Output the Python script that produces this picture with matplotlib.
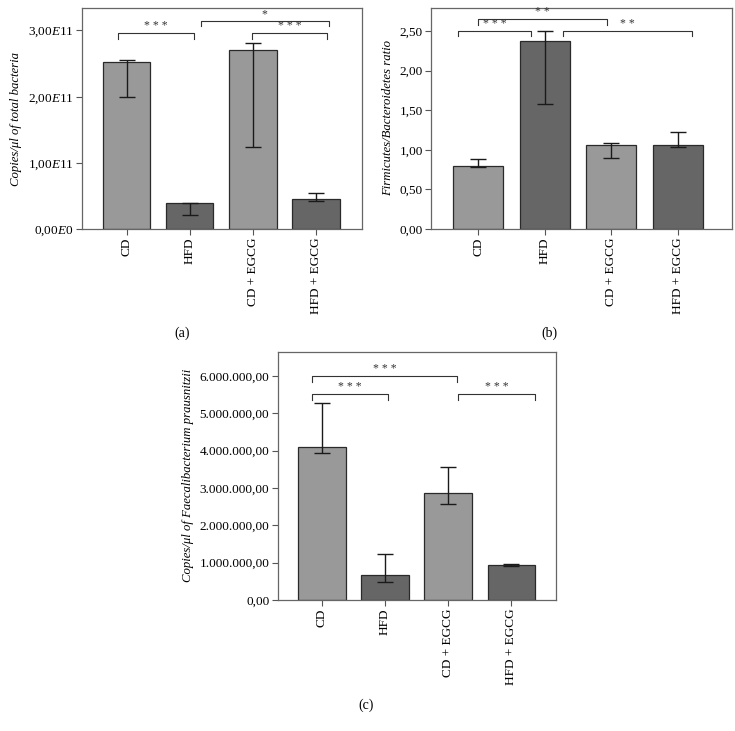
import matplotlib
matplotlib.use("Agg")
import matplotlib.pyplot as plt
import numpy as np

plt.rcParams['font.family'] = ['Liberation Serif', 'DejaVu Serif']
plt.rcParams['mathtext.fontset'] = 'custom'
plt.rcParams['mathtext.it'] = 'Liberation Serif:italic'
plt.rcParams['mathtext.rm'] = 'Liberation Serif'

groups = ["CD", "HFD", "CD + EGCG", "HFD + EGCG"]

# Panel (a): total bacteria
a_vals = [2.53e11, 0.39e11, 2.70e11, 0.45e11]
a_low = [2.00e11, 0.21e11, 1.24e11, 0.42e11]
a_high = [2.55e11, 0.40e11, 2.81e11, 0.54e11]
a_ticks = [0, 1e11, 2e11, 3e11]
a_ticklabels = [r"0,00$E$0", r"1,00$E$11", r"2,00$E$11", r"3,00$E$11"]

# Panel (b): Firmicutes/Bacteroidetes ratio
b_vals = [0.80, 2.37, 1.06, 1.06]
b_low = [0.78, 1.58, 0.90, 1.04]
b_high = [0.89, 2.50, 1.08, 1.22]
b_ticks = [0, 0.5, 1.0, 1.5, 2.0, 2.5]
b_ticklabels = ["0,00", "0,50", "1,00", "1,50", "2,00", "2,50"]

# Panel (c): Faecalibacterium prausnitzii
c_vals = [4.09e6, 0.67e6, 2.86e6, 0.94e6]
c_low = [3.94e6, 0.47e6, 2.56e6, 0.91e6]
c_high = [5.27e6, 1.24e6, 3.56e6, 0.97e6]
c_ticks = [0, 1e6, 2e6, 3e6, 4e6, 5e6, 6e6]
c_ticklabels = ["0,00", "1.000.000,00", "2.000.000,00", "3.000.000,00",
                "4.000.000,00", "5.000.000,00", "6.000.000,00"]

# significance brackets: (x_start, x_end, y, label)
a_brackets = [(-0.14, 1.06, 2.96e11, "* * *"),
              (1.17, 3.20, 3.15e11, "*"),
              (1.99, 3.17, 2.96e11, "* * *")]
b_brackets = [(-0.30, 0.80, 2.50, "* * *"),
              (0.00, 1.93, 2.65, "* *"),
              (1.27, 3.21, 2.50, "* *")]
c_brackets = [(-0.16, 1.04, 5.52e6, "* * *"),
              (-0.16, 2.14, 6.01e6, "* * *"),
              (2.16, 3.38, 5.52e6, "* * *")]

light = "#999999"
dark = "#666666"
colors = [light, dark, light, dark]

fig = plt.figure(figsize=(7.35, 7.31), dpi=100)

def panel(rect, vals, low, high, ticks, ticklabels, ylim, xlim, ylabel, brackets, tag, tagpos):
    ax = fig.add_axes(rect)
    x = np.arange(len(groups))
    vals = np.array(vals); low = np.array(low); high = np.array(high)
    ax.bar(x, vals, width=0.75, color=colors, edgecolor="#2a2a2a", linewidth=0.9, zorder=2)
    ax.errorbar(x, vals, yerr=[vals - low, high - vals], fmt="none",
                ecolor="#1a1a1a", elinewidth=1.0, capsize=5.5, capthick=1.0, zorder=3)
    ax.set_xlim(*xlim)
    ax.set_ylim(*ylim)
    ax.set_xticks(x)
    ax.set_xticklabels(groups, rotation=90, fontsize=9.5)
    ax.set_yticks(ticks)
    ax.set_yticklabels(ticklabels, fontsize=9.5)
    ax.tick_params(direction="out", length=4, width=0.8, color="#555555", pad=2)
    for s in ax.spines.values():
        s.set_color("#666666")
        s.set_linewidth(0.9)
    ax.set_ylabel(ylabel, fontsize=9.2, style="italic", labelpad=4)
    span = ylim[1] - ylim[0]
    for (x1, x2, y, lab) in brackets:
        leg = span * 0.025
        ax.plot([x1, x1, x2, x2], [y - leg, y, y, y - leg], color="#333333", lw=0.8, zorder=4)
        ax.annotate(lab, xy=((x1 + x2) / 2, y), xytext=(0, 0.5), textcoords="offset points",
                    ha="center", va="bottom", fontsize=8.5, color="#333333")
    fig.text(tagpos[0], tagpos[1], tag, ha="center", va="center", fontsize=10)
    return ax

panel([82/735, 1-229/731, 280/735, 221/731], a_vals, a_low, a_high, a_ticks, a_ticklabels,
      (0, 3.34e11), (-0.71, 3.73), "Copies/μl of total bacteria", a_brackets, "(a)", (182/735, 1-333/731))
panel([431/735, 1-229/731, 301/735, 221/731], b_vals, b_low, b_high, b_ticks, b_ticklabels,
      (0, 2.79), (-0.705, 3.81), "Firmicutes/Bacteroidetes ratio", b_brackets, "(b)", (549/735, 1-333/731))
panel([277.7/735, 1-600/731, 278.3/735, 248.3/731], c_vals, c_low, c_high, c_ticks, c_ticklabels,
      (0, 6.65e6), (-0.70, 3.71), "Copies/μl of Faecalibacterium prausnitzii", c_brackets, "(c)", (366/735, 1-705/731))

fig.savefig("out.png", dpi=100)
